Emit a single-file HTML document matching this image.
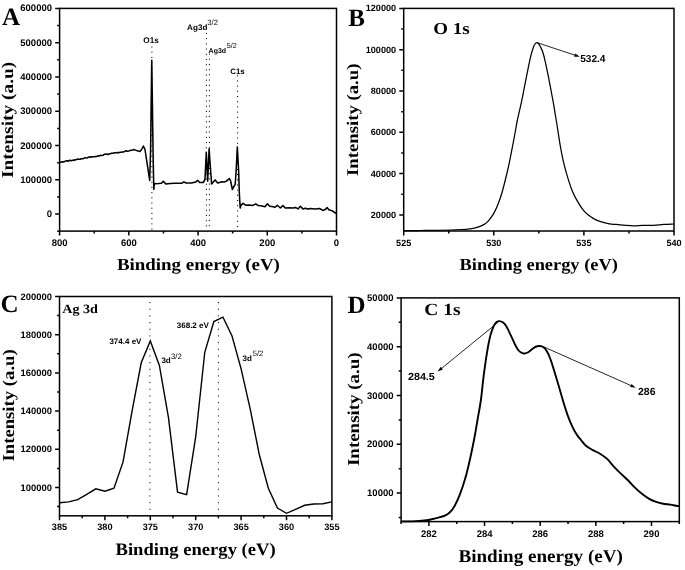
<!DOCTYPE html>
<html lang="en"><head><meta charset="utf-8"><title>XPS spectra</title>
<style>html,body{margin:0;padding:0;background:#fff}svg{display:block}.s{font-family:"Liberation Sans",sans-serif}.t{font-family:"Liberation Serif",serif}</style></head>
<body>
<svg width="685" height="570" viewBox="0 0 685 570" text-rendering="geometricPrecision">
<rect width="685" height="570" fill="#fff"/>
<rect x="59.6" y="8.4" width="276.9" height="222.7" fill="none" stroke="#000" stroke-width="1.5"/>
<path d="M59.6 214.1h-4.4M59.6 179.82h-4.4M59.6 145.54h-4.4M59.6 111.26h-4.4M59.6 76.98h-4.4M59.6 42.7h-4.4M59.6 8.42h-4.4M59.6 231.24h-2.4M59.6 196.96h-2.4M59.6 162.68h-2.4M59.6 128.4h-2.4M59.6 94.12h-2.4M59.6 59.84h-2.4M59.6 25.56h-2.4" stroke="#000" stroke-width="1.5" fill="none"/>
<g class="s" font-weight="bold" font-size="9.5" text-anchor="end">
<text transform="translate(52 217.1) scale(1.0 1)">0</text>
<text transform="translate(52 182.82) scale(1.0 1)">100000</text>
<text transform="translate(52 148.54) scale(1.0 1)">200000</text>
<text transform="translate(52 114.26) scale(1.0 1)">300000</text>
<text transform="translate(52 79.98) scale(1.0 1)">400000</text>
<text transform="translate(52 45.7) scale(1.0 1)">500000</text>
<text transform="translate(52 11.42) scale(1.0 1)">600000</text>
</g>
<path d="M59.6 231.1v4.4M128.82 231.1v4.4M198.05 231.1v4.4M267.27 231.1v4.4M336.5 231.1v4.4M94.21 231.1v2.4M163.44 231.1v2.4M232.66 231.1v2.4M301.89 231.1v2.4" stroke="#000" stroke-width="1.5" fill="none"/>
<g class="s" font-weight="bold" font-size="9.5" text-anchor="middle">
<text transform="translate(59.6 246.2) scale(1.0 1)">800</text>
<text transform="translate(128.82 246.2) scale(1.0 1)">600</text>
<text transform="translate(198.05 246.2) scale(1.0 1)">400</text>
<text transform="translate(267.27 246.2) scale(1.0 1)">200</text>
<text transform="translate(336.5 246.2) scale(1.0 1)">0</text>
</g>
<text x="116.9" y="269.9" class="t" font-weight="bold" font-size="17" textLength="163" lengthAdjust="spacingAndGlyphs">Binding energy (eV)</text>
<text transform="translate(13.1 178) rotate(-90)" class="t" font-weight="bold" font-size="16.6" textLength="116.2" lengthAdjust="spacingAndGlyphs">Intensity (a.u)</text>
<text x="2.1" y="25.4" class="t" font-weight="bold" font-size="25">A</text>
<line x1="151.9" y1="46.5" x2="151.9" y2="230" stroke="#000" stroke-width="1.0" stroke-dasharray="1.1 4.1"/>
<line x1="206.4" y1="32.9" x2="206.4" y2="230" stroke="#000" stroke-width="1.0" stroke-dasharray="1.1 4.1"/>
<line x1="209.4" y1="53.5" x2="209.4" y2="230" stroke="#000" stroke-width="1.0" stroke-dasharray="1.1 4.1"/>
<line x1="237.6" y1="75.2" x2="237.6" y2="230" stroke="#000" stroke-width="1.0" stroke-dasharray="1.1 4.1"/>
<polyline points="59.6,162.2 60.81,162.24 62.01,161.86 63.22,161.88 64.43,161.7 65.63,160.93 66.84,160.67 68.05,161.29 69.25,160.51 70.46,160.27 71.67,160.83 72.87,160.1 74.08,160.26 75.29,159.69 76.49,159.65 77.7,158.95 78.91,159.23 80.11,159.25 81.32,158.7 82.53,158.71 83.73,158.44 84.94,157.62 86.15,158.11 87.35,157.74 88.56,157.24 89.77,156.76 90.97,157.39 92.18,156.79 93.39,156.83 94.59,156.79 95.8,156.41 97.01,156.41 98.21,155.68 99.42,155.88 100.63,155.32 101.83,155.6 103.04,155.34 104.25,154.35 105.45,154.18 106.66,154.06 107.87,154.6 109.07,153.86 110.28,153.85 111.49,153.31 112.69,153.31 113.9,152.99 115.11,152.74 116.31,152.77 117.52,152.56 118.73,152.68 119.93,152.25 121.14,152.29 122.35,152.01 123.55,151.94 124.76,151.41 125.97,150.7 127.17,151.19 128.38,151.08 129.59,150.82 130.79,150.28 132,150.21 134.2,149.6 136.5,150.6 139.9,151.4 141.6,149.5 143.4,146 145,149.5 149.7,180.4 150.6,150 151.75,60.35 153.2,160 153.8,189.5 154.3,183.4 156,183.8 158.3,183.6 161.5,183.2 163.3,181.2 165.8,183.9 170,183.5 175,183.3 182,183.2 183.9,181.9 186.1,183 191.4,183 195.8,181.9 197.8,180.4 199.7,182.5 203.2,182.5 205,179.5 206.3,152.3 207.7,181.2 209.1,148.8 210.2,165 211.6,183.9 213.3,182 215.1,179.9 217.7,183 219.5,182.4 222.1,181.7 224,181.9 226.4,181.2 229.3,178.6 230.5,180.5 232.4,189.5 233.6,187 235.2,184.3 236.2,170 237.3,147 238.6,170 239.4,195 240.2,208 240.9,205.4 243,203.4 245.7,205.2 249,205.1 252.7,205.4 255.8,204 258,205.4 261,205.8 265,206.7 267.4,203.8 269.8,206.2 272,206.6 275.1,207.3 277.3,205.2 280.3,208 282.9,205.6 285.3,208 289,207.8 293.2,208 295.4,207.4 298,208.9 300.4,206.2 303,209.1 305,208.2 308,209.1 310.3,208.5 315,209.1 319.5,208.5 323,210.4 325.2,209.6 327.1,207.6 329.1,210 331.3,210.4 334,212 336.3,213.6" fill="none" stroke="#000" stroke-width="1.55" stroke-linejoin="round" stroke-linecap="butt"/>
<g class="s">
<text x="143.3" y="42.5" font-weight="bold" font-size="8.2">O1s</text>
<text x="187.1" y="29.8" font-weight="bold" font-size="8.1">Ag3d<tspan dy="-4.7" font-weight="normal" font-size="7.7">3/2</tspan></text>
<text x="208.6" y="52.6" font-weight="bold" font-size="7">Ag3d<tspan dy="-4.7" dx="0.6" font-weight="normal" font-size="7.2">5/2</tspan></text>
<text x="230.2" y="73.5" font-weight="bold" font-size="7.9">C1s</text>
</g>
<rect x="403.7" y="8.4" width="270.3" height="222.6" fill="none" stroke="#000" stroke-width="1.5"/>
<path d="M403.7 214.9h-4.4M403.7 173.6h-4.4M403.7 132.3h-4.4M403.7 91h-4.4M403.7 49.7h-4.4M403.7 8.4h-4.4M403.7 194.25h-2.4M403.7 152.95h-2.4M403.7 111.65h-2.4M403.7 70.35h-2.4M403.7 29.05h-2.4" stroke="#000" stroke-width="1.5" fill="none"/>
<g class="s" font-weight="bold" font-size="9.1" text-anchor="end">
<text transform="translate(396.1 217.8) scale(1.0 1)">20000</text>
<text transform="translate(396.1 176.5) scale(1.0 1)">40000</text>
<text transform="translate(396.1 135.2) scale(1.0 1)">60000</text>
<text transform="translate(396.1 93.9) scale(1.0 1)">80000</text>
<text transform="translate(396.1 52.6) scale(1.0 1)">100000</text>
<text transform="translate(396.1 11.3) scale(1.0 1)">120000</text>
</g>
<path d="M403.7 231v4.4M493.8 231v4.4M583.9 231v4.4M674 231v4.4M448.75 231v2.4M538.85 231v2.4M628.95 231v2.4" stroke="#000" stroke-width="1.5" fill="none"/>
<g class="s" font-weight="bold" font-size="9.1" text-anchor="middle">
<text transform="translate(403.7 246.2) scale(1.0 1)">525</text>
<text transform="translate(493.8 246.2) scale(1.0 1)">530</text>
<text transform="translate(583.9 246.2) scale(1.0 1)">535</text>
<text transform="translate(674 246.2) scale(1.0 1)">540</text>
</g>
<text x="459.6" y="269.9" class="t" font-weight="bold" font-size="17" textLength="158.2" lengthAdjust="spacingAndGlyphs">Binding energy (eV)</text>
<text transform="translate(358.3 176) rotate(-90)" class="t" font-weight="bold" font-size="16.4" textLength="112.4" lengthAdjust="spacingAndGlyphs">Intensity (a.u)</text>
<text x="348.2" y="26" class="t" font-weight="bold" font-size="25">B</text>
<text transform="translate(433.2 34.4) scale(1.13 1)" class="t" font-weight="bold" font-size="16.8">O 1s</text>
<path d="M403.7 230.6C406.42 230.58 413.95 230.55 420 230.5C426.05 230.45 433.1 230.47 440 230.3C446.9 230.13 456.37 229.75 461.4 229.5C466.43 229.25 467.87 229.07 470.2 228.8C472.53 228.53 473.65 228.35 475.4 227.9C477.15 227.45 479.23 226.68 480.7 226.1C482.17 225.52 483.03 225.15 484.2 224.4C485.37 223.65 486.53 222.77 487.7 221.6C488.87 220.43 490.03 219.07 491.2 217.4C492.37 215.73 493.53 213.88 494.7 211.6C495.87 209.32 497.02 206.77 498.2 203.7C499.38 200.63 500.62 197.15 501.8 193.2C502.98 189.25 504.13 184.68 505.3 180C506.47 175.32 507.63 170.52 508.8 165.1C509.97 159.68 511.17 153.35 512.3 147.5C513.43 141.65 514.73 134.67 515.6 130C516.47 125.33 516.58 123.88 517.5 119.5C518.42 115.12 519.92 109.27 521.1 103.7C522.28 98.13 523.43 91.95 524.6 86.1C525.77 80.25 527.08 73.57 528.1 68.6C529.12 63.63 529.83 59.82 530.7 56.3C531.57 52.78 532.58 49.55 533.3 47.5C534.02 45.45 534.42 44.82 535 44C535.58 43.18 536.2 42.63 536.8 42.6C537.4 42.57 538 43.12 538.6 43.8C539.2 44.48 539.67 45.2 540.4 46.7C541.13 48.2 542.13 50.03 543 52.8C543.87 55.57 544.73 59.5 545.6 63.3C546.47 67.1 547.32 71.22 548.2 75.6C549.08 79.98 550.02 84.92 550.9 89.6C551.78 94.28 552.63 98.72 553.5 103.7C554.37 108.68 555.38 115.12 556.1 119.5C556.82 123.88 557.1 125.62 557.8 130C558.5 134.38 559.3 140.25 560.3 145.8C561.3 151.35 562.48 157.75 563.8 163.3C565.12 168.85 566.75 174.42 568.2 179.1C569.65 183.78 570.9 187.6 572.5 191.4C574.1 195.2 576.03 198.83 577.8 201.9C579.57 204.97 581.35 207.6 583.1 209.8C584.85 212 586.55 213.63 588.3 215.1C590.05 216.57 591.55 217.52 593.6 218.6C595.65 219.68 597.97 220.72 600.6 221.6C603.23 222.48 606.77 223.43 609.4 223.9C612.03 224.37 613.77 224.17 616.4 224.4C619.03 224.63 622.28 225.07 625.2 225.3C628.12 225.53 630.98 225.8 633.9 225.8C636.82 225.8 639.48 225.38 642.7 225.3C645.92 225.22 649.68 225.45 653.2 225.3C656.72 225.15 660.37 224.62 663.8 224.4C667.23 224.18 672.13 224.07 673.8 224" fill="none" stroke="#000" stroke-width="1.25" stroke-linejoin="round"/>
<line x1="537.6" y1="42.8" x2="575.62" y2="55.41" stroke="#000" stroke-width="0.85"/>
<polygon points="579.8,56.8 574.14,56.71 575.21,53.49" fill="#000"/>
<text x="580.2" y="62.0" class="s" font-weight="bold" font-size="10.1">532.4</text>
<rect x="59.5" y="296.5" width="272.4" height="219.3" fill="none" stroke="#000" stroke-width="1.5"/>
<path d="M59.5 296.5h-4.4M59.5 334.7h-4.4M59.5 372.9h-4.4M59.5 411.1h-4.4M59.5 449.3h-4.4M59.5 487.5h-4.4M59.5 315.6h-2.4M59.5 353.8h-2.4M59.5 392h-2.4M59.5 430.2h-2.4M59.5 468.4h-2.4M59.5 506.6h-2.4" stroke="#000" stroke-width="1.5" fill="none"/>
<g class="s" font-weight="bold" font-size="9.4" text-anchor="end">
<text transform="translate(51.9 299.5) scale(1.0 1)">200000</text>
<text transform="translate(51.9 337.7) scale(1.0 1)">180000</text>
<text transform="translate(51.9 375.9) scale(1.0 1)">160000</text>
<text transform="translate(51.9 414.1) scale(1.0 1)">140000</text>
<text transform="translate(51.9 452.3) scale(1.0 1)">120000</text>
<text transform="translate(51.9 490.5) scale(1.0 1)">100000</text>
</g>
<path d="M59.5 515.8v4.4M104.9 515.8v4.4M150.3 515.8v4.4M195.7 515.8v4.4M241.1 515.8v4.4M286.5 515.8v4.4M331.9 515.8v4.4M82.2 515.8v2.4M127.6 515.8v2.4M173 515.8v2.4M218.4 515.8v2.4M263.8 515.8v2.4M309.2 515.8v2.4" stroke="#000" stroke-width="1.5" fill="none"/>
<g class="s" font-weight="bold" font-size="9.2" text-anchor="middle">
<text transform="translate(59.5 530) scale(1.0 1)">385</text>
<text transform="translate(104.9 530) scale(1.0 1)">380</text>
<text transform="translate(150.3 530) scale(1.0 1)">375</text>
<text transform="translate(195.7 530) scale(1.0 1)">370</text>
<text transform="translate(241.1 530) scale(1.0 1)">365</text>
<text transform="translate(286.5 530) scale(1.0 1)">360</text>
<text transform="translate(331.9 530) scale(1.0 1)">355</text>
</g>
<text x="115.55" y="554.9" class="t" font-weight="bold" font-size="17.4" textLength="160.1" lengthAdjust="spacingAndGlyphs">Binding energy (eV)</text>
<text transform="translate(13.8 461.5) rotate(-90)" class="t" font-weight="bold" font-size="16.6" textLength="112.2" lengthAdjust="spacingAndGlyphs">Intensity (a.u)</text>
<text x="0.6" y="312.3" class="t" font-weight="bold" font-size="25">C</text>
<text transform="translate(62.2 312.8) scale(1.115 1)" class="t" font-weight="bold" font-size="12.7">Ag 3d</text>
<line x1="149.9" y1="302" x2="149.9" y2="515" stroke="#000" stroke-width="1.0" stroke-dasharray="1.1 5.57"/>
<line x1="218.4" y1="302" x2="218.4" y2="515" stroke="#000" stroke-width="1.0" stroke-dasharray="1.1 5.57"/>
<polyline points="59.5,502.8 68.58,501.9 77.66,499.6 86.74,494.4 95.82,488.8 104.9,491.2 113.98,488.2 123.06,461.9 132.14,410.7 141.22,362.8 150.3,340.9 159.38,365.4 168.46,417.6 177.54,492.1 186.62,494.7 195.7,436.8 204.78,352.3 213.86,321.6 222.94,317.2 232.02,336 241.1,368.8 250.18,408.8 259.26,454.5 268.34,488.2 277.42,508.1 286.5,513.3 295.58,509.3 304.66,505.3 313.74,504 322.82,503.7 331.9,501.9" fill="none" stroke="#000" stroke-width="1.4" stroke-linejoin="miter" stroke-linecap="butt"/>
<g class="s">
<text x="109.4" y="343.9" font-weight="bold" font-size="8">374.4 eV</text>
<text x="176.8" y="328.1" font-weight="bold" font-size="8">368.2 eV</text>
<text x="161.4" y="363.3" font-weight="bold" font-size="8">3d<tspan dy="-4.3" dx="0.3" font-weight="normal" font-size="7.8">3/2</tspan></text>
<text x="242.6" y="360.5" font-weight="bold" font-size="8">3d<tspan dy="-4.5" dx="0.8" font-weight="normal" font-size="7.6">5/2</tspan></text>
</g>
<rect x="401.1" y="297.9" width="278.2" height="223.7" fill="none" stroke="#000" stroke-width="1.5"/>
<path d="M401.1 297.9h-4.4M401.1 346.7h-4.4M401.1 395.5h-4.4M401.1 444.3h-4.4M401.1 493.1h-4.4M401.1 322.3h-2.4M401.1 371.1h-2.4M401.1 419.9h-2.4M401.1 468.7h-2.4M401.1 517.5h-2.4" stroke="#000" stroke-width="1.5" fill="none"/>
<g class="s" font-weight="bold" font-size="9.5" text-anchor="end">
<text transform="translate(393.5 300.9) scale(1.0 1)">50000</text>
<text transform="translate(393.5 349.7) scale(1.0 1)">40000</text>
<text transform="translate(393.5 398.5) scale(1.0 1)">30000</text>
<text transform="translate(393.5 447.3) scale(1.0 1)">20000</text>
<text transform="translate(393.5 496.1) scale(1.0 1)">10000</text>
</g>
<path d="M428.92 521.6v4.4M484.56 521.6v4.4M540.2 521.6v4.4M595.84 521.6v4.4M651.48 521.6v4.4M401.1 521.6v2.4M456.74 521.6v2.4M512.38 521.6v2.4M568.02 521.6v2.4M623.66 521.6v2.4M679.3 521.6v2.4" stroke="#000" stroke-width="1.5" fill="none"/>
<g class="s" font-weight="bold" font-size="9.5" text-anchor="middle">
<text transform="translate(428.92 537.4) scale(1.0 1)">282</text>
<text transform="translate(484.56 537.4) scale(1.0 1)">284</text>
<text transform="translate(540.2 537.4) scale(1.0 1)">286</text>
<text transform="translate(595.84 537.4) scale(1.0 1)">288</text>
<text transform="translate(651.48 537.4) scale(1.0 1)">290</text>
</g>
<text x="458.45" y="561.9" class="t" font-weight="bold" font-size="18" textLength="164.5" lengthAdjust="spacingAndGlyphs">Binding energy (eV)</text>
<text transform="translate(359.1 466) rotate(-90)" class="t" font-weight="bold" font-size="16.6" textLength="113.6" lengthAdjust="spacingAndGlyphs">Intensity (a.u)</text>
<text x="347.6" y="313.1" class="t" font-weight="bold" font-size="25">D</text>
<text transform="translate(424.3 315.4) scale(1.13 1)" class="t" font-weight="bold" font-size="17.2">C 1s</text>
<path d="M401.1 521.4C403.58 521.35 411.75 521.3 416 521.1C420.25 520.9 423.37 520.67 426.6 520.2C429.83 519.73 432.48 519 435.4 518.3C438.32 517.6 441.77 516.92 444.1 516C446.43 515.08 447.65 514.47 449.4 512.8C451.15 511.13 452.85 509.07 454.6 506C456.35 502.93 458.13 498.97 459.9 494.4C461.67 489.83 463.58 484.17 465.2 478.6C466.82 473.03 468.13 467.43 469.6 461C471.07 454.57 472.68 446.83 474 440C475.32 433.17 476.35 426.67 477.5 420C478.65 413.33 479.9 407.13 480.9 400C481.9 392.87 482.48 385.1 483.5 377.2C484.52 369.3 485.83 359.62 487 352.6C488.17 345.58 489.33 339.63 490.5 335.1C491.67 330.57 492.97 327.6 494 325.4C495.03 323.2 495.82 322.62 496.7 321.9C497.58 321.18 498.28 321.03 499.3 321.1C500.32 321.17 501.63 321.43 502.8 322.3C503.97 323.17 504.98 324.17 506.3 326.3C507.62 328.43 509.23 332.03 510.7 335.1C512.17 338.17 513.78 342.13 515.1 344.7C516.42 347.27 517.43 349.12 518.6 350.5C519.77 351.88 521.08 352.5 522.1 353C523.12 353.5 523.68 353.62 524.7 353.5C525.72 353.38 526.88 353.08 528.2 352.3C529.52 351.52 531.28 349.77 532.6 348.8C533.92 347.83 534.93 346.97 536.1 346.5C537.27 346.03 538.42 345.92 539.6 346C540.78 346.08 542.02 346.18 543.2 347C544.38 347.82 545.53 348.98 546.7 350.9C547.87 352.82 549.03 355.45 550.2 358.5C551.37 361.55 552.53 365.48 553.7 369.2C554.87 372.92 556.03 376.87 557.2 380.8C558.37 384.73 559.53 388.8 560.7 392.8C561.87 396.8 563.03 401.03 564.2 404.8C565.37 408.57 566.53 412.17 567.7 415.4C568.87 418.63 570.03 421.57 571.2 424.2C572.37 426.83 573.53 429.13 574.7 431.2C575.87 433.27 577.07 435.03 578.2 436.6C579.33 438.17 580.2 439.07 581.5 440.6C582.8 442.13 584.08 444.2 586 445.8C587.92 447.4 590.67 448.88 593 450.2C595.33 451.52 597.65 452.25 600 453.7C602.35 455.15 604.75 456.72 607.1 458.9C609.45 461.08 611.77 464.3 614.1 466.8C616.43 469.3 618.75 471.62 621.1 473.9C623.45 476.18 625.85 478.17 628.2 480.5C630.55 482.83 632.87 485.65 635.2 487.9C637.53 490.15 639.87 492.18 642.2 494C644.53 495.82 646.87 497.48 649.2 498.8C651.53 500.12 653.87 501.08 656.2 501.9C658.53 502.72 660.85 503.25 663.2 503.7C665.55 504.15 667.95 504.22 670.3 504.6C672.65 504.98 675.8 505.75 677.3 506C678.8 506.25 678.97 506.08 679.3 506.1" fill="none" stroke="#000" stroke-width="1.9" stroke-linejoin="round"/>
<line x1="498.2" y1="322.2" x2="441.01" y2="368.82" stroke="#000" stroke-width="0.85"/>
<polygon points="437.6,371.6 440.71,366.87 442.86,369.51" fill="#000"/>
<line x1="544" y1="347" x2="631.78" y2="385.92" stroke="#000" stroke-width="0.85"/>
<polygon points="635.8,387.7 630.17,387.07 631.55,383.96" fill="#000"/>
<text transform="translate(408 379.5) scale(1.04 1)" class="s" font-weight="bold" font-size="10.3">284.5</text>
<text x="638.1" y="394.7" class="s" font-weight="bold" font-size="10.4">286</text>
</svg>
</body></html>
